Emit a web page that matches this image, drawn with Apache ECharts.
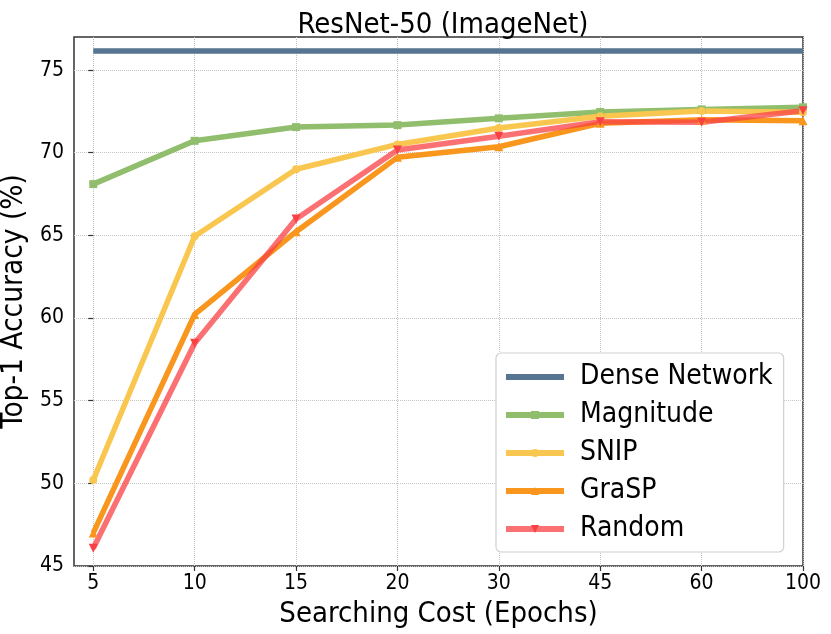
<!DOCTYPE html>
<html>
<head>
    <meta charset="UTF-8">
    <title>ResNet-50 (ImageNet)</title>
</head>
<body>
    <div id="_Echart"></div>
</body>
<style type="text/css">
    html,body{margin:0;padding:0;background:#fff;}
    #_Echart{height:634px;width:831px;}
</style>
<script type="text/javascript" src="https://cdn.jsdelivr.net/npm/echarts@6/dist/echarts.min.js"></script>
<script type="text/javascript">
// data
var epochs = ['5', '10', '15', '20', '30', '45', '60', '100'];
var yTicks = [45, 50, 55, 60, 65, 70, 75];
var dense = [76.15, 76.15, 76.15, 76.15, 76.15, 76.15, 76.15, 76.15];
var magnitude = [68.1, 70.72, 71.55, 71.67, 72.08, 72.46, 72.62, 72.75];
var snip = [50.2, 64.95, 69.0, 70.5, 71.5, 72.2, 72.52, 72.45];
var grasp = [47.0, 60.22, 65.22, 69.72, 70.36, 71.78, 72.0, 71.94];
var random = [46.07, 58.47, 65.99, 70.16, 71.0, 71.88, 71.84, 72.54];

var FONT = "'DejaVu Sans Condensed', 'DejaVu Sans'";
var chart = echarts.init(document.getElementById('_Echart'), null, {renderer: 'canvas'});

function pts(arr) { return arr.map(function (v, i) { return [i, v]; }); }

function line(name, arr, color, symbol, extra) {
    var s = {
        name: name, type: 'line', data: pts(arr),
        symbol: symbol, symbolSize: 9, showSymbol: symbol !== 'none',
        lineStyle: { color: color, width: 5.5 },
        itemStyle: { color: color, opacity: 1 },
        emphasis: { disabled: true },
        animation: false
    };
    for (var k in extra) s[k] = extra[k];
    return s;
}

var xIdx = epochs.map(function (e, i) { return i; });

var option = {
    backgroundColor: '#fff',
    textStyle: { fontFamily: FONT },
    title: {
        text: 'ResNet-50 (ImageNet)', left: 438, top: 6, textAlign: 'center',
        textStyle: { fontFamily: FONT, fontSize: 29, fontWeight: 'normal', color: '#000' }
    },
    grid: { left: 74, right: 28, top: 37, bottom: 68, containLabel: false, outerBoundsMode: 'none',
        show: true, borderColor: '#333', borderWidth: 1.5, backgroundColor: 'transparent' },
    xAxis: {
        type: 'value', min: -0.19, max: 7,
        name: 'Searching Cost (Epochs)', nameLocation: 'middle', nameGap: 34,
        nameTextStyle: { fontFamily: FONT, fontSize: 29, color: '#000' },
        axisLine: { show: false },
        axisTick: { show: true, customValues: xIdx, length: 5, lineStyle: { color: '#333', width: 1.2 } },
        axisLabel: { customValues: xIdx, fontFamily: FONT, fontSize: 21, color: '#000', margin: 7,
            formatter: function (v) { return epochs[Math.round(v)]; } },
        splitLine: { show: true, lineStyle: { type: 'dotted', color: '#c4c4c4', width: 1 } }
    },
    yAxis: {
        type: 'value', min: 45, max: 77,
        name: 'Top-1 Accuracy (%)', nameLocation: 'middle', nameGap: 36,
        nameTextStyle: { fontFamily: FONT, fontSize: 29.5, color: '#000' },
        axisLine: { show: false },
        axisTick: { show: true, customValues: yTicks, length: 5, lineStyle: { color: '#333', width: 1.2 } },
        axisLabel: { customValues: yTicks, fontFamily: FONT, fontSize: 21, color: '#000', margin: 10 },
        splitLine: { show: true, lineStyle: { type: 'dotted', color: '#c4c4c4', width: 1 } }
    },
    legend: {
        orient: 'vertical', left: 496, top: 353,
        itemWidth: 58, itemHeight: 10, itemGap: 10,
        padding: [10, 11, 9, 7],
        backgroundColor: '#fff', borderColor: '#d0d0d0', borderWidth: 1.2, borderRadius: 5,
        lineStyle: { width: 6 },
        textStyle: { fontFamily: FONT, fontSize: 28, color: '#000', padding: [0, 0, 0, 11] },
        data: [
            { name: 'Dense Network', itemStyle: { opacity: 0 } },
            'Magnitude', 'SNIP', 'GraSP', 'Random'
        ]
    },
    series: [
        line('Dense Network', dense, '#577590', 'none', {}),
        line('Magnitude', magnitude, '#90be6d', 'rect', { symbolSize: 8 }),
        line('SNIP', snip, '#f9c74f', 'circle', { symbolSize: 8 }),
        line('GraSP', grasp, '#f8961e', 'triangle', {}),
        line('Random', random, '#f94144', 'triangle', { symbolRotate: 180,
            lineStyle: { color: '#f94144', width: 5.5, opacity: 0.75 } })
    ]
};
chart.setOption(option);
</script>
</html>
